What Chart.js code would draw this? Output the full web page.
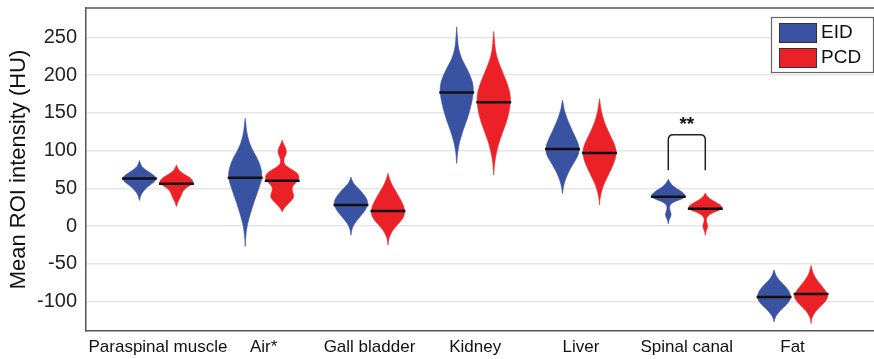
<!DOCTYPE html>
<html>
<head>
<meta charset="utf-8">
<script src="https://cdn.jsdelivr.net/npm/chart.js@4.4.1/dist/chart.umd.min.js"></script>
<style>
  html, body { margin: 0; padding: 0; background: #fff; }
  #wrap { width: 874px; height: 359px; }
</style>
</head>
<body>
<div id="wrap"><canvas id="roiChart"></canvas></div>
<script>
// categories and tick labels
const categories = ['Paraspinal muscle', 'Air*', 'Gall bladder', 'Kidney', 'Liver', 'Spinal canal', 'Fat'];
const yTicks = [-100, -50, 0, 50, 100, 150, 200, 250];

// medians (HU)
const eidMedian = [63, 64, 28, 177, 102, 39, -94];
const pcdMedian = [56, 60, 20, 164, 97, 23, -90];

// violin outlines: HU levels (top to bottom) and relative density width at each level
const eidLevels = [
  [87, 83, 79, 75, 71, 67, 63, 59, 55, 51, 47, 43, 39, 34],
  [143, 136, 129, 122, 115, 108, 101, 94, 87, 80, 73, 66, 59, 52, 45, 38, 31, 24, 17, 10, 3, -4, -11, -18, -27],
  [65, 61, 57, 53, 49, 45, 41, 37, 33, 29, 25, 21, 17, 13, 9, 5, 1, -4, -8, -12],
  [264, 255, 246, 238, 230, 222, 214, 206, 198, 190, 182, 174, 166, 158, 150, 142, 134, 126, 118, 110, 102, 94, 83],
  [167, 161, 155, 149, 143, 137, 131, 125, 119, 113, 107, 101, 95, 89, 83, 77, 71, 65, 59, 53, 48, 43],
  [62, 58, 54, 50, 46, 42, 39, 36, 33, 30, 27, 24, 21, 18, 15, 12, 9, 6, 3],
  [-58, -62, -66, -70, -74, -78, -82, -86, -90, -94, -98, -102, -106, -110, -114, -118, -122, -127]
];
const eidDensity = [
  [0, 0.06, 0.15, 0.35, 0.62, 0.88, 1, 0.9, 0.68, 0.45, 0.27, 0.14, 0.06, 0],
  [0, 0.04, 0.07, 0.12, 0.2, 0.3, 0.45, 0.62, 0.78, 0.9, 0.98, 1, 0.95, 0.85, 0.74, 0.63, 0.52, 0.42, 0.32, 0.23, 0.15, 0.09, 0.05, 0.02, 0],
  [0, 0.06, 0.15, 0.3, 0.48, 0.65, 0.8, 0.92, 0.99, 1, 0.95, 0.85, 0.72, 0.57, 0.42, 0.28, 0.16, 0.07, 0.03, 0],
  [0, 0.03, 0.06, 0.1, 0.18, 0.3, 0.48, 0.67, 0.83, 0.95, 1, 0.98, 0.92, 0.84, 0.74, 0.63, 0.5, 0.37, 0.26, 0.16, 0.09, 0.04, 0],
  [0, 0.05, 0.1, 0.18, 0.27, 0.38, 0.5, 0.62, 0.75, 0.87, 0.97, 1, 0.95, 0.82, 0.66, 0.5, 0.36, 0.24, 0.14, 0.07, 0.03, 0],
  [0, 0.1, 0.25, 0.48, 0.78, 0.98, 1, 0.8, 0.45, 0.2, 0.1, 0.08, 0.1, 0.15, 0.17, 0.13, 0.07, 0.03, 0],
  [0, 0.06, 0.14, 0.26, 0.42, 0.6, 0.76, 0.89, 0.97, 1, 0.95, 0.83, 0.66, 0.47, 0.3, 0.15, 0.06, 0]
];
const pcdLevels = [
  [81, 77, 73, 69, 65, 61, 58, 55, 51, 47, 43, 39, 35, 31, 26],
  [114, 110, 106, 102, 98, 94, 90, 86, 82, 78, 74, 70, 66, 62, 58, 54, 50, 46, 42, 38, 34, 30, 26, 22, 19],
  [70, 65, 60, 55, 50, 45, 40, 35, 30, 25, 20, 15, 10, 5, 0, -5, -10, -15, -20, -25],
  [258, 250, 242, 234, 226, 218, 210, 202, 194, 186, 178, 170, 162, 154, 146, 138, 130, 122, 114, 106, 98, 90, 82, 75, 68],
  [169, 162, 155, 148, 141, 134, 127, 120, 113, 106, 99, 92, 85, 78, 71, 64, 57, 50, 43, 36, 28],
  [44, 40, 36, 32, 28, 25, 22, 19, 16, 13, 10, 7, 4, 1, -2, -5, -8, -12],
  [-52, -56, -60, -64, -68, -72, -76, -80, -84, -88, -92, -96, -100, -104, -108, -112, -116, -120, -124, -129]
];
const pcdDensity = [
  [0, 0.08, 0.2, 0.45, 0.75, 0.95, 1, 0.9, 0.62, 0.42, 0.32, 0.25, 0.16, 0.07, 0],
  [0, 0.06, 0.15, 0.22, 0.25, 0.2, 0.12, 0.1, 0.15, 0.35, 0.65, 0.9, 1, 0.98, 0.85, 0.68, 0.6, 0.62, 0.68, 0.68, 0.55, 0.38, 0.2, 0.07, 0],
  [0, 0.06, 0.14, 0.24, 0.36, 0.5, 0.63, 0.76, 0.87, 0.96, 1, 0.98, 0.88, 0.7, 0.5, 0.32, 0.18, 0.08, 0.03, 0],
  [0, 0.03, 0.06, 0.1, 0.17, 0.28, 0.42, 0.57, 0.72, 0.85, 0.95, 1, 0.99, 0.94, 0.86, 0.76, 0.63, 0.5, 0.37, 0.26, 0.17, 0.1, 0.05, 0.02, 0],
  [0, 0.04, 0.09, 0.16, 0.25, 0.36, 0.5, 0.65, 0.8, 0.93, 1, 0.97, 0.88, 0.75, 0.6, 0.45, 0.3, 0.18, 0.09, 0.03, 0],
  [0, 0.1, 0.3, 0.6, 0.9, 1, 0.92, 0.6, 0.32, 0.15, 0.08, 0.07, 0.1, 0.14, 0.13, 0.08, 0.03, 0],
  [0, 0.04, 0.09, 0.16, 0.26, 0.38, 0.52, 0.67, 0.81, 0.93, 1, 0.96, 0.85, 0.68, 0.5, 0.33, 0.19, 0.09, 0.03, 0]
];

// significance bracket (Spinal canal, EID vs PCD)
const sigCategory = 6;
const sigBottom = 74;
const sigTop = 121;
const sigLabel = '**';

const series = [
  { name: 'EID', color: '#3a52a2', levels: eidLevels, density: eidDensity, median: eidMedian, shift: -0.175 },
  { name: 'PCD', color: '#ec2127', levels: pcdLevels, density: pcdDensity, median: pcdMedian, shift: 0.175 }
];
const halfWidth = 0.157;

const datasets = [];
// medians first so they sit on top of the violins
series.forEach(s => {
  categories.forEach((cat, i) => {
    const c = i + 1 + s.shift;
    datasets.push({
      label: s.name + ' median',
      data: [{ x: c - halfWidth - 0.008, y: s.median[i] }, { x: c + halfWidth + 0.008, y: s.median[i] }],
      showLine: true,
      fill: false,
      borderColor: '#111',
      borderWidth: 2.5,
      pointRadius: 0,
      tension: 0,
      order: 0
    });
  });
});
series.forEach(s => {
  categories.forEach((cat, i) => {
    const c = i + 1 + s.shift;
    const hu = s.levels[i];
    const w = s.density[i];
    const left = hu.map((y, k) => ({ x: c - w[k] * halfWidth, y: y }));
    const right = hu.map((y, k) => ({ x: c + w[k] * halfWidth, y: y })).reverse();
    datasets.push({
      label: s.name,
      data: left.concat(right.slice(1)),
      showLine: true,
      fill: 'shape',
      backgroundColor: s.color,
      borderColor: s.color,
      borderWidth: 0.6,
      pointRadius: 0,
      tension: 0.3,
      order: 1
    });
  });
});

// top frame line, bracket and legend box
const extrasPlugin = {
  id: 'extras',
  afterDraw(chart) {
    const ctx = chart.ctx;
    const area = chart.chartArea;
    const xs = chart.scales.x;
    const ys = chart.scales.y;
    ctx.save();

    ctx.strokeStyle = '#555';
    ctx.lineWidth = 1.5;
    ctx.beginPath();
    ctx.moveTo(area.left, area.top);
    ctx.lineTo(area.right, area.top);
    ctx.stroke();

    // bracket
    const x1 = xs.getPixelForValue(sigCategory + series[0].shift);
    const x2 = xs.getPixelForValue(sigCategory + series[1].shift);
    const yb = ys.getPixelForValue(sigBottom);
    const yt = ys.getPixelForValue(sigTop);
    const r = 5;
    ctx.strokeStyle = '#222';
    ctx.lineWidth = 1.5;
    ctx.beginPath();
    ctx.moveTo(x1, yb);
    ctx.lineTo(x1, yt + r);
    ctx.quadraticCurveTo(x1, yt, x1 + r, yt);
    ctx.lineTo(x2 - r, yt);
    ctx.quadraticCurveTo(x2, yt, x2, yt + r);
    ctx.lineTo(x2, yb);
    ctx.stroke();
    ctx.fillStyle = '#111';
    ctx.font = 'bold 19px "Liberation Sans", Arial, sans-serif';
    ctx.textAlign = 'center';
    ctx.textBaseline = 'middle';
    ctx.fillText(sigLabel, (x1 + x2) / 2, yt - 10);

    // legend
    const lx = 771, ly = 17, lw = 103, lh = 56;
    ctx.fillStyle = '#fff';
    ctx.fillRect(lx, ly, lw, lh);
    ctx.strokeStyle = '#666';
    ctx.lineWidth = 1.2;
    ctx.strokeRect(lx + 0.5, ly + 0.5, lw - 1, lh - 1);
    ctx.font = '19px "Liberation Sans", Arial, sans-serif';
    ctx.textAlign = 'left';
    series.forEach((s, k) => {
      const sy = ly + 6 + k * 25;
      ctx.fillStyle = s.color;
      ctx.fillRect(lx + 8, sy, 38, 20);
      ctx.strokeStyle = '#333';
      ctx.lineWidth = 1;
      ctx.strokeRect(lx + 8.5, sy + 0.5, 37, 19);
      ctx.fillStyle = '#111';
      ctx.fillText(s.name, lx + 50, sy + 10);
    });
    ctx.restore();
  }
};

new Chart(document.getElementById('roiChart').getContext('2d'), {
  type: 'scatter',
  data: { datasets: datasets },
  options: {
    responsive: true,
    maintainAspectRatio: false,
    animation: false,
    layout: { padding: { top: 8, right: 0, left: 0, bottom: 0 } },
    plugins: {
      legend: { display: false },
      tooltip: { enabled: false }
    },
    scales: {
      x: {
        type: 'linear',
        min: 0.32,
        max: 7.77,
        afterBuildTicks: scale => { scale.ticks = categories.map((c, i) => ({ value: i + 1 })); },
        afterFit: scale => {
          scale.height = 28;
          scale.paddingLeft = 0;
          scale.paddingRight = 0;
        },
        grid: { display: false, drawTicks: false },
        border: { display: true, color: '#555', width: 1.5 },
        ticks: {
          autoSkip: false,
          maxRotation: 0,
          padding: 6,
          color: '#111',
          font: { size: 17, family: '"Liberation Sans", Arial, sans-serif' },
          callback: (v) => categories[v - 1] || ''
        }
      },
      y: {
        min: -139,
        max: 289,
        afterBuildTicks: scale => { scale.ticks = yTicks.map(v => ({ value: v })); },
        afterFit: scale => {
          scale.width = 86;
          scale.paddingTop = 0;
          scale.paddingBottom = 0;
        },
        grid: { color: '#e6e6e6', lineWidth: 1.5, drawTicks: false },
        border: { display: true, color: '#555', width: 1.5 },
        ticks: {
          padding: 9,
          color: '#222',
          font: { size: 20, family: '"Liberation Sans", Arial, sans-serif' }
        },
        title: {
          display: true,
          text: 'Mean ROI intensity (HU)',
          color: '#111',
          padding: { top: 6, bottom: 0 },
          font: { size: 22, family: '"Liberation Sans", Arial, sans-serif' }
        }
      }
    }
  },
  plugins: [extrasPlugin]
});
</script>
</body>
</html>
